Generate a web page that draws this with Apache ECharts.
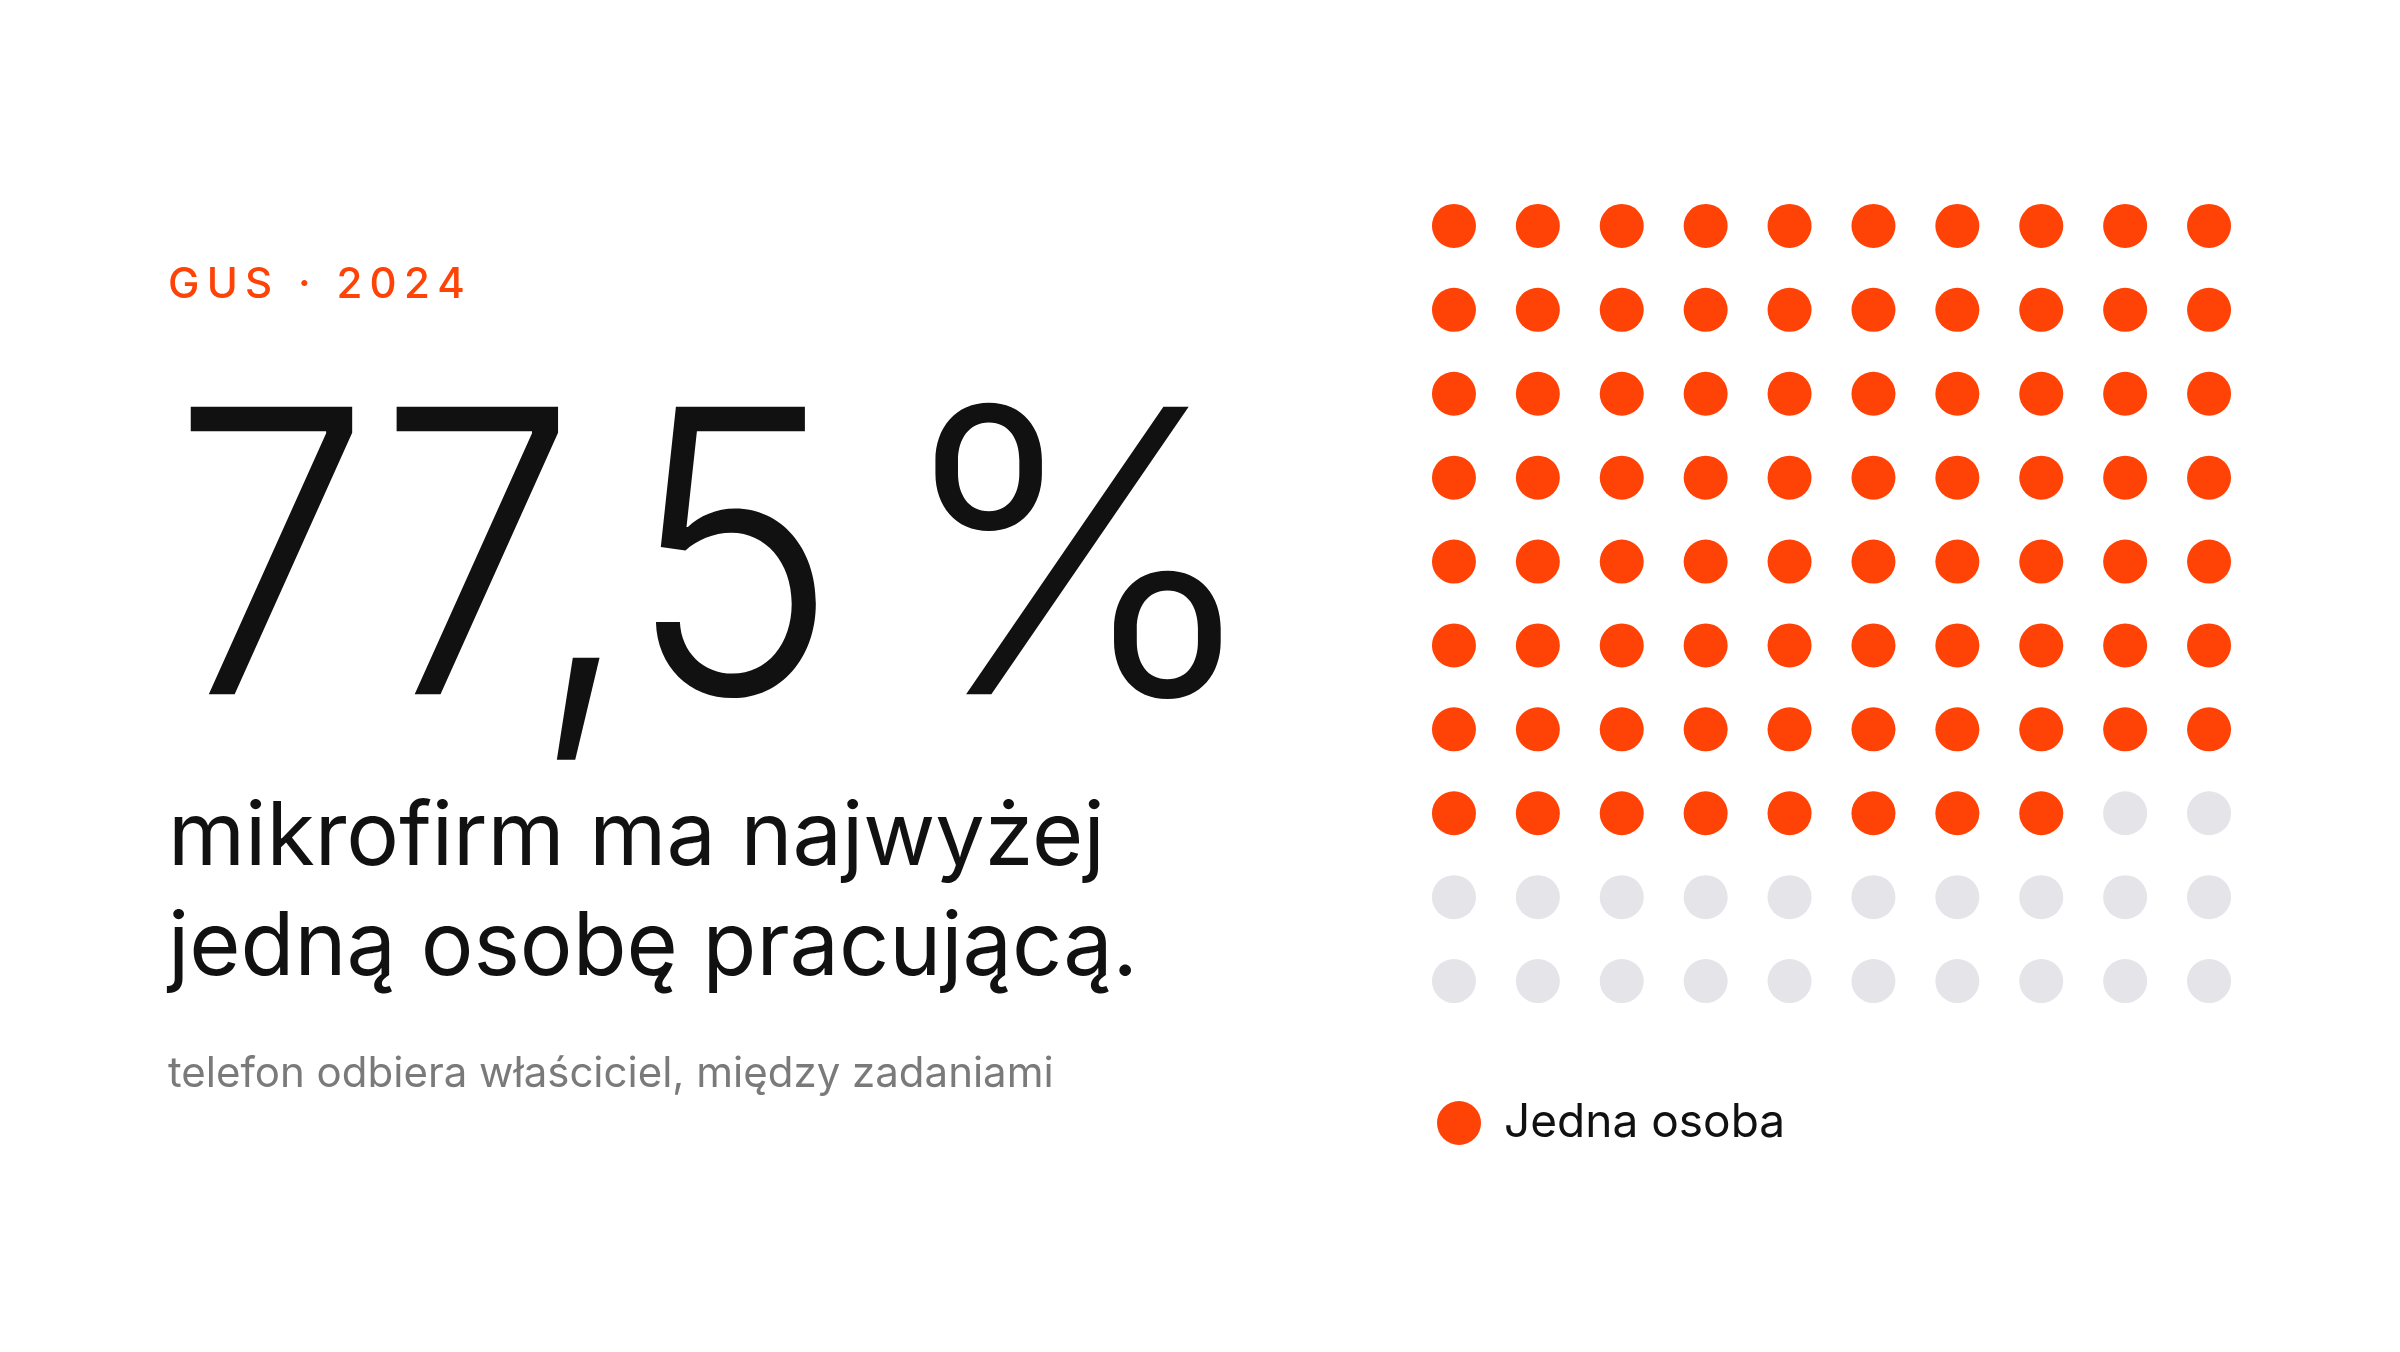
<!DOCTYPE html>
<html><head><meta charset="utf-8">
<script src="https://cdn.jsdelivr.net/npm/echarts@6/dist/echarts.min.js"></script>
<style>html,body{margin:0;padding:0;background:#fff}#c{width:2400px;height:1352px}</style>
</head><body><div id="c"></div>
<script>
const sharePercent = 77.5;
const filledDots = 78;
const totalDots = 100;
const gridCols = 10;
const seriesNames = ['Jedna osoba', 'Pozostałe'];
const kicker = 'GUS · 2024';
const headline = '77,5';
const lines = ['mikrofirm ma najwyżej', 'jedną osobę pracującą.'];
const note = 'telefon odbiera właściciel, między zadaniami';

const filled = [], empty = [];
for (let i = 0; i < totalDots; i++) {
  const p = [i % gridCols, Math.floor(i / gridCols)];
  (i < filledDots ? filled : empty).push(p);
}
const F = 'Inter, "Noto Sans", sans-serif';
const chart = echarts.init(document.getElementById('c'));
chart.setOption({
  animation: false,
  backgroundColor: '#fff',
  grid: { left: 1412, top: 184, width: 839, height: 839 },
  xAxis: { type: 'value', min: -0.5, max: 9.5, show: false },
  yAxis: { type: 'value', min: -0.5, max: 9.5, inverse: true, show: false },
  legend: {
    data: [seriesNames[0]], left: 1432, top: 1095, icon: 'circle',
    itemWidth: 44, itemHeight: 44, itemGap: 20,
    textStyle: { fontFamily: F, fontSize: 46, color: '#111', padding: [0, 0, 0, 18] }
  },
  series: [
    { name: seriesNames[0], type: 'scatter', data: filled, symbolSize: 44, itemStyle: { color: '#FF4205', opacity: 1 } },
    { name: seriesNames[1], type: 'scatter', data: empty, symbolSize: 44, itemStyle: { color: '#E4E4E9', opacity: 1 } }
  ],
  graphic: [
    { type: 'text', left: 168, top: 264, style: { text: kicker.split('').join('\u2009'), font: '500 42px ' + F, fill: '#FF4205' } },
    { type: 'text', x: 172, y: 378, scaleX: 0.9, style: { text: headline, font: '300 395px ' + F, fill: '#111' } },
    { type: 'text', left: 893, top: 378, style: { text: '%', font: '300 395px ' + F, fill: '#111' } },
    { type: 'text', left: 168, top: 784, style: { text: lines.join('\n'), font: '400 88px ' + F, lineHeight: 110, fill: '#111' } },
    { type: 'text', left: 168, top: 1053, style: { text: note, font: '400 42px ' + F, fill: '#7a7a7a' } }
  ]
});
</script></body></html>
